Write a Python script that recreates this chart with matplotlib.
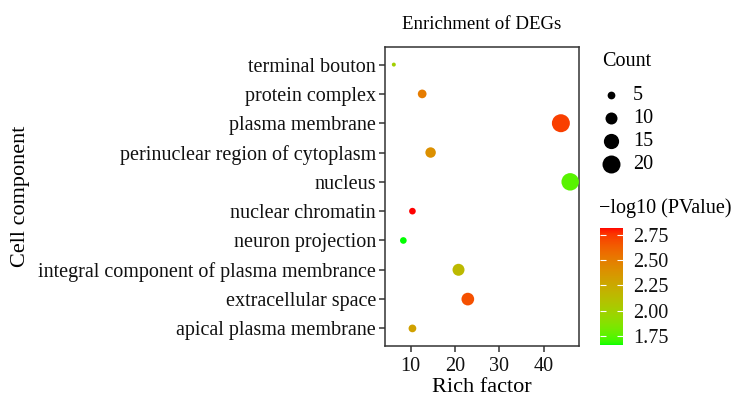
import numpy as np
import matplotlib
matplotlib.use('Agg')
import matplotlib.pyplot as plt
from matplotlib.colors import ListedColormap, Normalize

plt.rcParams['font.family'] = ['Liberation Serif', 'DejaVu Serif']

# data
terms = ['apical plasma membrane', 'extracellular space',
         'integral component of plasma membrance', 'neuron projection',
         'nuclear chromatin', 'nucleus', 'perinuclear region of cytoplasm',
         'plasma membrane', 'protein complex', 'terminal bouton']
rich_factor = [10.4, 22.9, 20.8, 8.35, 10.4, 46.0, 14.5, 43.9, 12.6, 6.2]
counts = [5, 11, 10, 4, 4, 19, 8, 20, 6, 2]
neglog_p = [2.30, 2.68, 2.15, 1.66, 2.82, 1.75, 2.40, 2.73, 2.50, 2.00]
count_breaks = [5, 10, 15, 20]
color_ticks = [1.75, 2.00, 2.25, 2.50, 2.75]

W, H = 732, 395

# green -> red gradient in Lab space (like ggplot)
M = np.array([[0.4124, 0.3576, 0.1805],
              [0.2126, 0.7152, 0.0722],
              [0.0193, 0.1192, 0.9505]])
WHITE = np.array([0.95047, 1.0, 1.08883])

def to_lab(c):
    c = np.asarray(c, float)
    lin = np.where(c <= 0.04045, c / 12.92, ((c + 0.055) / 1.055) ** 2.4)
    xyz = M @ lin / WHITE
    f = np.where(xyz > 0.008856, np.cbrt(xyz), 7.787 * xyz + 16 / 116)
    return np.array([116 * f[1] - 16, 500 * (f[0] - f[1]), 200 * (f[1] - f[2])])

def from_lab(lab):
    L, a, b = lab
    fy = (L + 16) / 116
    f = np.array([fy + a / 500, fy, fy - b / 200])
    xyz = np.where(f ** 3 > 0.008856, f ** 3, (f - 16 / 116) / 7.787) * WHITE
    lin = np.clip(np.linalg.inv(M) @ xyz, 0, 1)
    c = np.where(lin <= 0.0031308, 12.92 * lin, 1.055 * lin ** (1 / 2.4) - 0.055)
    return np.clip(c, 0, 1)

lab_lo, lab_hi = to_lab([0, 1, 0]), to_lab([1, 0, 0])
cmap = ListedColormap([from_lab(lab_lo + t * (lab_hi - lab_lo)) for t in np.linspace(0, 1, 256)])
norm = Normalize(min(neglog_p), max(neglog_p))

def msize(c):
    d = 4.58 * np.sqrt(np.asarray(c, float)) - 2.5   # diameter in px
    return (d * 72 / 100) ** 2

fig = plt.figure(figsize=(W / 100, H / 100), dpi=100)
ax = fig.add_axes([385 / W, 1 - 346 / H, 194 / W, 299 / H])

ypos = np.arange(len(terms))
sc = ax.scatter(rich_factor, ypos, s=msize(counts), c=neglog_p, cmap=cmap, norm=norm,
                linewidths=0, zorder=3)

xr = max(rich_factor) - min(rich_factor)
ax.set_xlim(min(rich_factor) - 0.05 * xr, max(rich_factor) + 0.05 * xr)
ax.set_ylim(-0.6, len(terms) - 0.4)
ax.set_xticks([10, 20, 30, 40])
ax.set_yticks(ypos)
ax.set_yticklabels(terms)
for s in ax.spines.values():
    s.set_color('#333333')
    s.set_linewidth(1.1)
ax.tick_params(colors='#333333', labelcolor='#111111', labelsize=14.5, length=4, width=1.1,
               pad=2.5)
ax.tick_params(axis='x', pad=4)
ax.set_xlabel('Rich factor', fontsize=16, labelpad=1)
ax.set_ylabel('Cell component', fontsize=16, labelpad=6)
ax.set_title('Enrichment of DEGs', fontsize=13.6, pad=13)

# size legend
handles = [ax.scatter([], [], s=msize(b), c='black', linewidths=0) for b in count_breaks]
leg = ax.legend(handles, [str(b) for b in count_breaks],
                loc='upper left', bbox_to_anchor=(599 / W, 1 - 86 / H),
                bbox_transform=fig.transFigure, frameon=False, fontsize=14.5,
                labelspacing=0.2, handletextpad=0.5, borderaxespad=0,
                borderpad=0, handlelength=1.2)
fig.text(602 / W, 1 - 61 / H, 'Count', fontsize=14.5, va='center', ha='left')

# colour bar
cax = fig.add_axes([600 / W, 1 - 345 / H, 23 / W, 117 / H])
cb = fig.colorbar(sc, cax=cax, ticks=color_ticks)
cb.outline.set_visible(False)
cax.set_yticklabels([f'{t:.2f}' for t in color_ticks])
cax.tick_params(left=True, right=True, direction='in', color='white', length=4.5,
                width=0.8, labelsize=14.5, labelcolor='#111111', pad=7)
fig.text(599 / W, 1 - 208 / H, '\u2212log10 (PValue)', fontsize=14.5, va='center', ha='left')

fig.savefig('out.png', dpi=100)
